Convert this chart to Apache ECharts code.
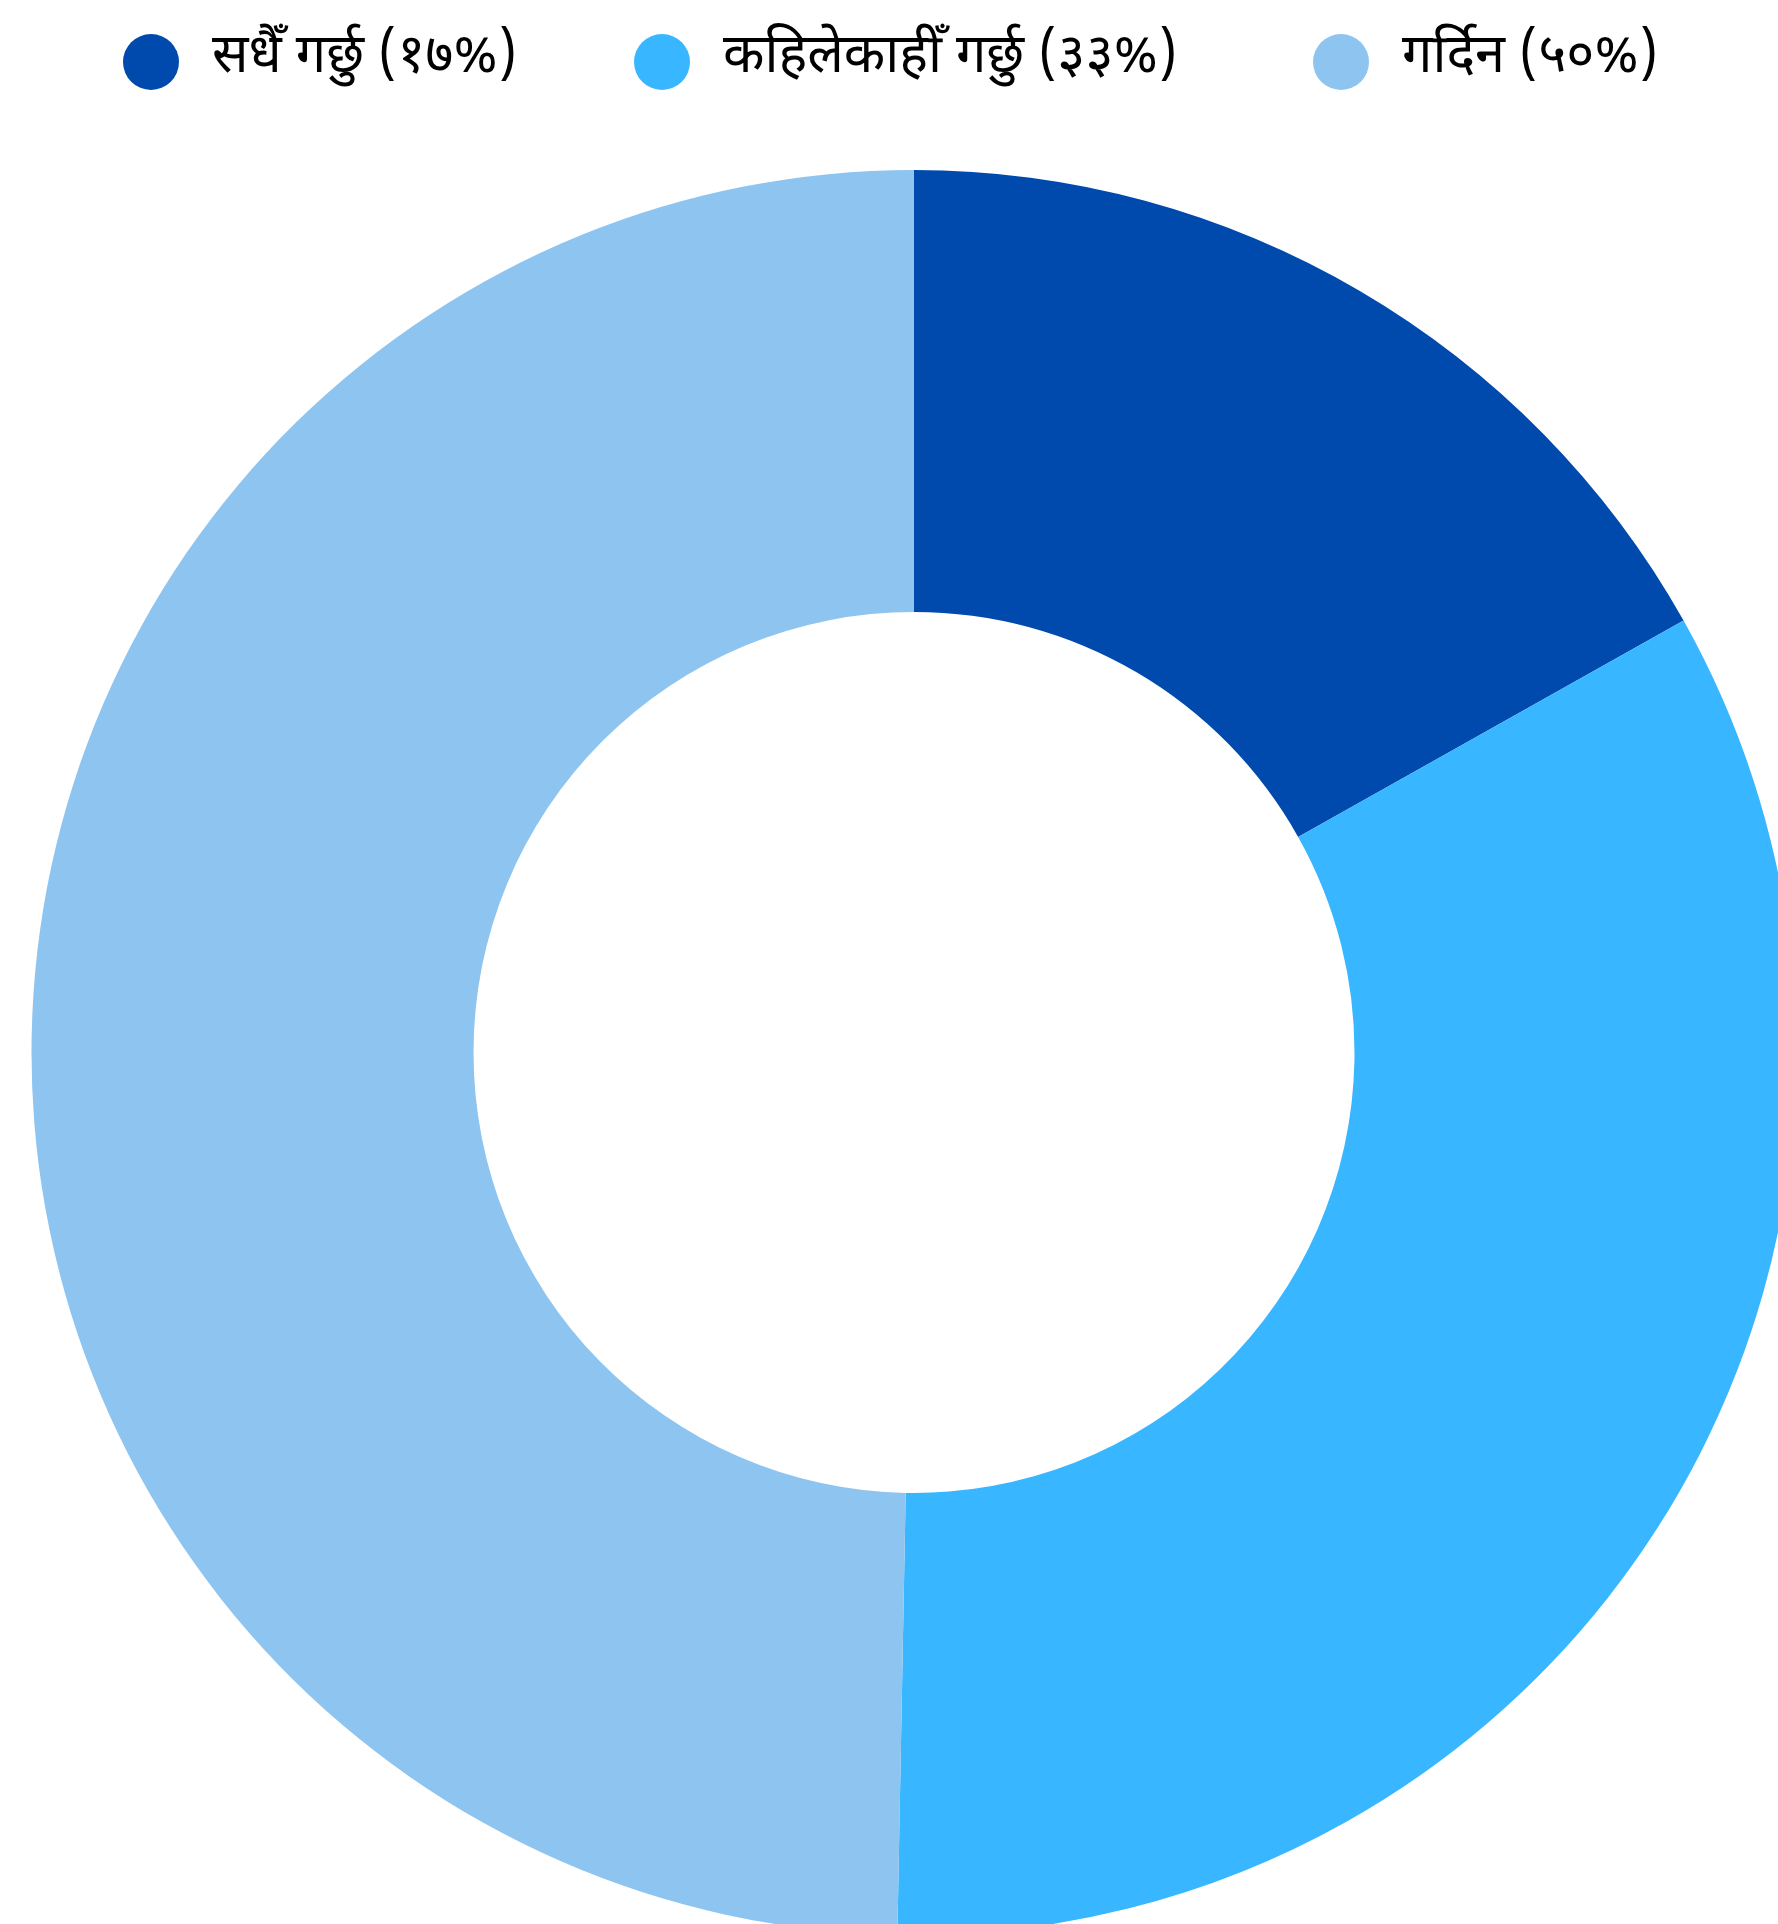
<!DOCTYPE html>
<html>
<head>
<meta charset="utf-8">
<title>donut</title>
<script src="https://cdn.jsdelivr.net/npm/echarts@6/dist/echarts.min.js"></script>
<style>
  html, body { margin: 0; padding: 0; background: #ffffff; }
  #chart { width: 1778px; height: 1924px; }
</style>
</head>
<body>
<div id="chart"></div>
<script>
// Response categories and their shares (percent)
const categories = ['सधैँ गर्छु', 'कहिलेकाहीँ गर्छु', 'गर्दिन'];
const shares = [16.86, 33.44, 49.70];
const colors = ['#004aad', '#38b6ff', '#8ec4f0'];

const devanagariDigits = ['०', '१', '२', '३', '४', '५', '६', '७', '८', '९'];
function toDevanagari(n) {
  return String(n).replace(/[0-9]/g, d => devanagariDigits[+d]);
}
const total = shares.reduce((a, b) => a + b, 0);
function labelFor(name) {
  const i = categories.indexOf(name);
  const pct = Math.round(shares[i] / total * 100);
  return name + ' (' + toDevanagari(pct) + '%)';
}

const fontFamily = '"Noto Sans Devanagari", "Noto Sans", "Mukta", sans-serif';
const legendLefts = [123, 634, 1313];

const chart = echarts.init(document.getElementById('chart'), null, { renderer: 'canvas' });
chart.setOption({
  animation: false,
  color: colors,
  legend: categories.map((name, i) => ({
    data: [name],
    left: legendLefts[i],
    top: 34,
    padding: 0,
    icon: 'circle',
    itemWidth: 56,
    itemHeight: 56,
    selectedMode: false,
    formatter: labelFor,
    textStyle: {
      fontFamily: fontFamily,
      fontSize: 54,
      color: '#000000',
      padding: [10, 0, 0, 28]
    }
  })),
  series: [{
    type: 'pie',
    center: [914, 1052.5],
    radius: [440.5, 882.5],
    startAngle: 90,
    clockwise: true,
    label: { show: false },
    labelLine: { show: false },
    emphasis: { disabled: true },
    itemStyle: { borderWidth: 0 },
    data: categories.map((name, i) => ({ name: name, value: shares[i] }))
  }]
});
</script>
</body>
</html>
